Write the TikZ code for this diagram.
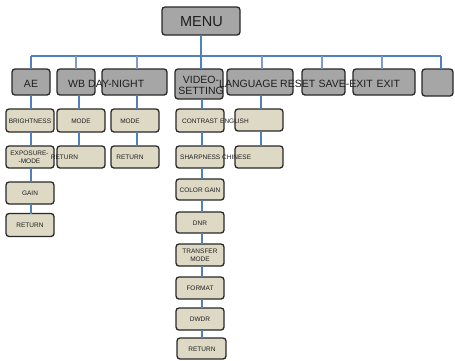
\documentclass[tikz,border=0pt]{standalone}
\usepackage{fontspec}
\setmainfont{Liberation Sans}
\definecolor{lineblue}{RGB}{79,129,189}
\definecolor{dropblue}{RGB}{125,155,205}
\definecolor{graybox}{RGB}{166,166,166}
\definecolor{beigebox}{RGB}{221,217,196}
\definecolor{boxedge}{RGB}{40,40,40}
\definecolor{txt}{RGB}{30,30,30}
\tikzset{
  topbox/.style={rectangle, rounded corners=3pt, draw=boxedge, fill=graybox, line width=1.3pt, inner sep=0pt, outer sep=0pt},
  subbox/.style={rectangle, rounded corners=3pt, draw=boxedge, fill=beigebox, line width=1.3pt, inner sep=0pt, outer sep=0pt, minimum width=48pt},
  bigtxt/.style={inner sep=0pt, text=txt, font=\fontsize{10.5}{12}\selectfont},
  smalltxt/.style={inner sep=0pt, text=txt, font=\fontsize{6.5}{8}\selectfont, align=center},
  bus/.style={draw=lineblue, line width=1.4pt},
  drop/.style={draw=dropblue, line width=1.1pt},
  col/.style={draw=lineblue, line width=1.3pt}
}
\begin{document}
\begin{tikzpicture}[x=1pt,y=-1pt]
\useasboundingbox (0,0) rectangle (455,360);
% top
\node[topbox, minimum width=78pt, minimum height=28pt] (menu) at (201,21) {};
% level 1
\node[topbox, minimum width=38pt, minimum height=26pt] (ae) at (31,82) {};
\node[topbox, minimum width=38pt, minimum height=26pt] (wb) at (76,82) {};
\node[topbox, minimum width=65pt, minimum height=26pt] (dn) at (134.5,82) {};
\node[topbox, minimum width=48pt, minimum height=30pt] (video) at (199,84) {};
\node[topbox, minimum width=66pt, minimum height=26pt] (lang) at (260,82) {};
\node[topbox, minimum width=43pt, minimum height=26pt] (reset) at (323.5,82) {};
\node[topbox, minimum width=62pt, minimum height=26pt] (save) at (384,82) {};
\node[topbox, minimum width=31pt, minimum height=27pt] (last) at (437.5,82.5) {};
% level 2 AE
\node[subbox, minimum height=23pt] (bright) at (30,120.5) {};
\node[subbox, minimum height=22pt] (expo) at (30,157) {};
\node[subbox, minimum height=22pt] (gain) at (30,193) {};
\node[subbox, minimum height=23pt] (aeret) at (30,225) {};
% WB
\node[subbox, minimum height=23pt] (wbmode) at (81,120.5) {};
\node[subbox, minimum height=22pt] (wbret) at (81,157) {};
% DAY-NIGHT
\node[subbox, minimum height=23pt] (dnmode) at (135,120.5) {};
\node[subbox, minimum height=22pt] (dnret) at (135,157) {};
% VIDEO
\node[subbox, minimum height=23pt] (contrast) at (200,120.5) {};
\node[subbox, minimum height=22pt] (sharp) at (200,157) {};
\node[subbox, minimum height=21pt] (cgain) at (200,189.5) {};
\node[subbox, minimum height=21pt] (dnr) at (200,222.5) {};
\node[subbox, minimum height=22pt] (transfer) at (200,255) {};
\node[subbox, minimum height=22pt] (format) at (200,288) {};
\node[subbox, minimum height=22pt] (dwdr) at (200,319) {};
\node[subbox, minimum height=21pt, minimum width=49pt] (vret) at (201.5,348.5) {};
% LANGUAGE
\node[subbox, minimum height=22pt] (english) at (259,120) {};
\node[subbox, minimum height=22pt] (chinese) at (259,157) {};

% bus
\coordinate (bL) at (31,56);
\coordinate (bR) at (441,56);
\draw[bus] (menu.south) -- (menu.south |- bL);
\draw[bus] (bL) -- (bR);
\coordinate (dAE) at (31,56);
\coordinate (dWB) at (76,56);
\coordinate (dDN) at (137,56);
\coordinate (dVI) at (201,56);
\coordinate (dLA) at (262,56);
\coordinate (dRE) at (322,56);
\coordinate (dSA) at (382,56);
\coordinate (dLS) at (441,56);
\draw[bus] (dAE) -- (dAE |- ae.north);
\draw[drop] (dWB) -- (dWB |- wb.north);
\draw[drop] (dDN) -- (dDN |- dn.north);
\draw[bus] (dVI) -- (dVI |- video.north);
\draw[drop] (dLA) -- (dLA |- lang.north);
\draw[drop] (dRE) -- (dRE |- reset.north);
\draw[drop] (dSA) -- (dSA |- save.north);
\draw[bus] (dLS) -- (dLS |- last.north);

% columns
\coordinate (cAE) at (31,0);
\coordinate (cWB) at (79,0);
\coordinate (cDN) at (137,0);
\coordinate (cVI) at (202,0);
\coordinate (cLA) at (261,0);
\draw[col] (cAE |- ae.south) -- (cAE |- bright.north);
\draw[col] (cAE |- bright.south) -- (cAE |- expo.north);
\draw[col] (cAE |- expo.south) -- (cAE |- gain.north);
\draw[col] (cAE |- gain.south) -- (cAE |- aeret.north);
\draw[col] (cWB |- wb.south) -- (cWB |- wbmode.north);
\draw[col] (cWB |- wbmode.south) -- (cWB |- wbret.north);
\draw[col] (cDN |- dn.south) -- (cDN |- dnmode.north);
\draw[col] (cDN |- dnmode.south) -- (cDN |- dnret.north);
\draw[col] (cVI |- video.south) -- (cVI |- contrast.north);
\draw[col] (cVI |- contrast.south) -- (cVI |- sharp.north);
\draw[col] (cVI |- sharp.south) -- (cVI |- cgain.north);
\draw[col] (cVI |- cgain.south) -- (cVI |- dnr.north);
\draw[col] (cVI |- dnr.south) -- (cVI |- transfer.north);
\draw[col] (cVI |- transfer.south) -- (cVI |- format.north);
\draw[col] (cVI |- format.south) -- (cVI |- dwdr.north);
\draw[col] (cVI |- dwdr.south) -- (cVI |- vret.north);
\draw[col] (cLA |- lang.south) -- (cLA |- english.north);
\draw[col] (cLA |- english.south) -- (cLA |- chinese.north);

% texts level 0/1
\node[inner sep=0pt, text=txt, font=\fontsize{14.5}{16}\selectfont] (tmenu) at (201.5,21.5) {MENU};
\node[bigtxt] (tae) at (31,84) {AE};
\node[bigtxt, anchor=west] (twb) at (68,84) {WB};
\node[bigtxt, anchor=west] (tdn) at (88,84) {DAY-NIGHT};
\node[bigtxt, align=center, font=\fontsize{10.5}{11.5}\selectfont] (tvideo) at (201,85.5) {VIDEO-\\SETTING};
\node[bigtxt, anchor=west] (tlang) at (219,83.5) {LANGUAGE};
\node[bigtxt, anchor=west] (treset) at (280,83.5) {RESET};
\node[bigtxt, anchor=west] (tsave) at (318.5,83.5) {SAVE-EXIT};
\node[bigtxt, anchor=west] (texit) at (376.5,83.5) {EXIT};
% texts level 2
\node[smalltxt] (tbright) at (30,121) {BRIGHTNESS};
\node[smalltxt, font=\fontsize{6.5}{8}\selectfont] (texpo) at (29.5,157) {EXPOSURE-\\-MODE};
\node[smalltxt] (tgain) at (30,193.5) {GAIN};
\node[smalltxt] (taeret) at (30,225.5) {RETURN};
\node[smalltxt] (twbmode) at (81,121) {MODE};
\node[smalltxt] (twbret) at (64.5,157.5) {RETURN};
\node[smalltxt] (tdnmode) at (130,121) {MODE};
\node[smalltxt] (tdnret) at (130,157.5) {RETURN};
\node[smalltxt, anchor=west] (tcontrast) at (182,121) {CONTRAST};
\node[smalltxt, anchor=west] (tenglish) at (220,121) {ENGLISH};
\node[smalltxt, anchor=west] (tsharp) at (180,157.5) {SHARPNESS};
\node[smalltxt, anchor=west] (tchinese) at (222,157.5) {CHINESE};
\node[smalltxt] (tcgain) at (200,190) {COLOR GAIN};
\node[smalltxt] (tdnr) at (200,223) {DNR};
\node[smalltxt, font=\fontsize{6.5}{8}\selectfont] (ttransfer) at (200,255.5) {TRANSFER\\MODE};
\node[smalltxt] (tformat) at (200,288.5) {FORMAT};
\node[smalltxt] (tdwdr) at (200,319.5) {DWDR};
\node[smalltxt] (tvret) at (202,349) {RETURN};
\end{tikzpicture}
\end{document}
